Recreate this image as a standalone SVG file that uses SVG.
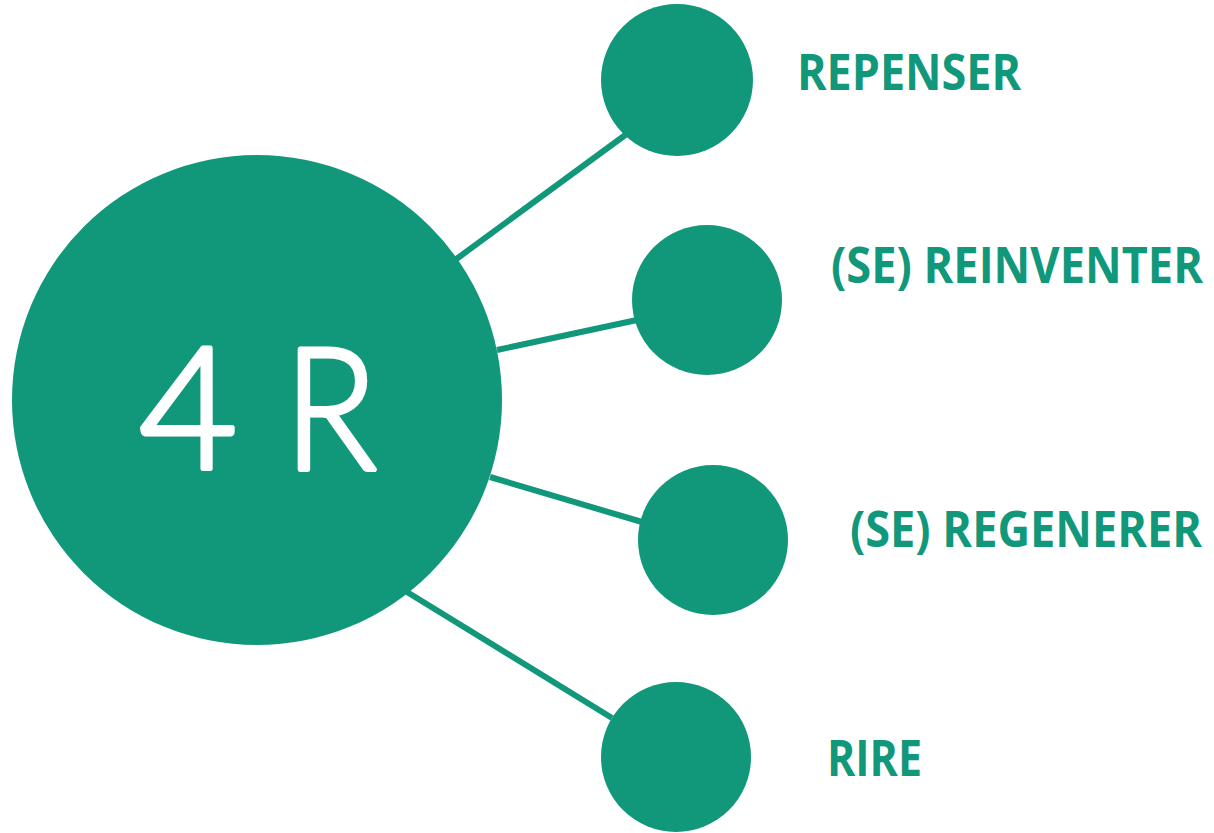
<svg xmlns="http://www.w3.org/2000/svg" width="1214" height="833" viewBox="0 0 1214 833">
<style>
.node{fill:#11977a}
.edge{stroke:#11977a;stroke-width:6;fill:none}
.lbl{font-family:"Open Sans","Liberation Sans",sans-serif;font-weight:700;font-size:50px;fill:#11977a}
.big{font-family:Lato,"Open Sans",sans-serif;font-weight:300;font-size:170px;fill:#fff;stroke:#fff;stroke-width:5;stroke-linejoin:round;stroke-linecap:round}
</style>
<rect width="1214" height="833" fill="#fff"/>
<g id="connectors">
<line class="edge" x1="455" y1="260" x2="628" y2="133"/>
<line class="edge" x1="497" y1="350" x2="637" y2="320"/>
<line class="edge" x1="490" y1="477" x2="642" y2="522"/>
<line class="edge" x1="407" y1="592" x2="612" y2="718"/>
</g>
<g id="center">
<circle class="node" cx="257" cy="400" r="245"/>
<text class="big" x="139" y="469">4</text>
<text class="big" transform="translate(284 469) scale(0.9 1)" x="0" y="0">R</text>
</g>
<g id="n1">
<circle class="node" cx="677" cy="80" r="76"/>
<text class="lbl" x="797" y="90" textLength="224" lengthAdjust="spacingAndGlyphs">REPENSER</text>
</g>
<g id="n2">
<circle class="node" cx="707" cy="300" r="75"/>
<text class="lbl" x="831" y="283" textLength="372" lengthAdjust="spacingAndGlyphs">(SE) REINVENTER</text>
</g>
<g id="n3">
<circle class="node" cx="713" cy="540" r="75"/>
<text class="lbl" x="850" y="547" textLength="352" lengthAdjust="spacingAndGlyphs">(SE) REGENERER</text>
</g>
<g id="n4">
<circle class="node" cx="676" cy="757" r="75"/>
<text class="lbl" x="827" y="776" textLength="95" lengthAdjust="spacingAndGlyphs">RIRE</text>
</g>
</svg>
